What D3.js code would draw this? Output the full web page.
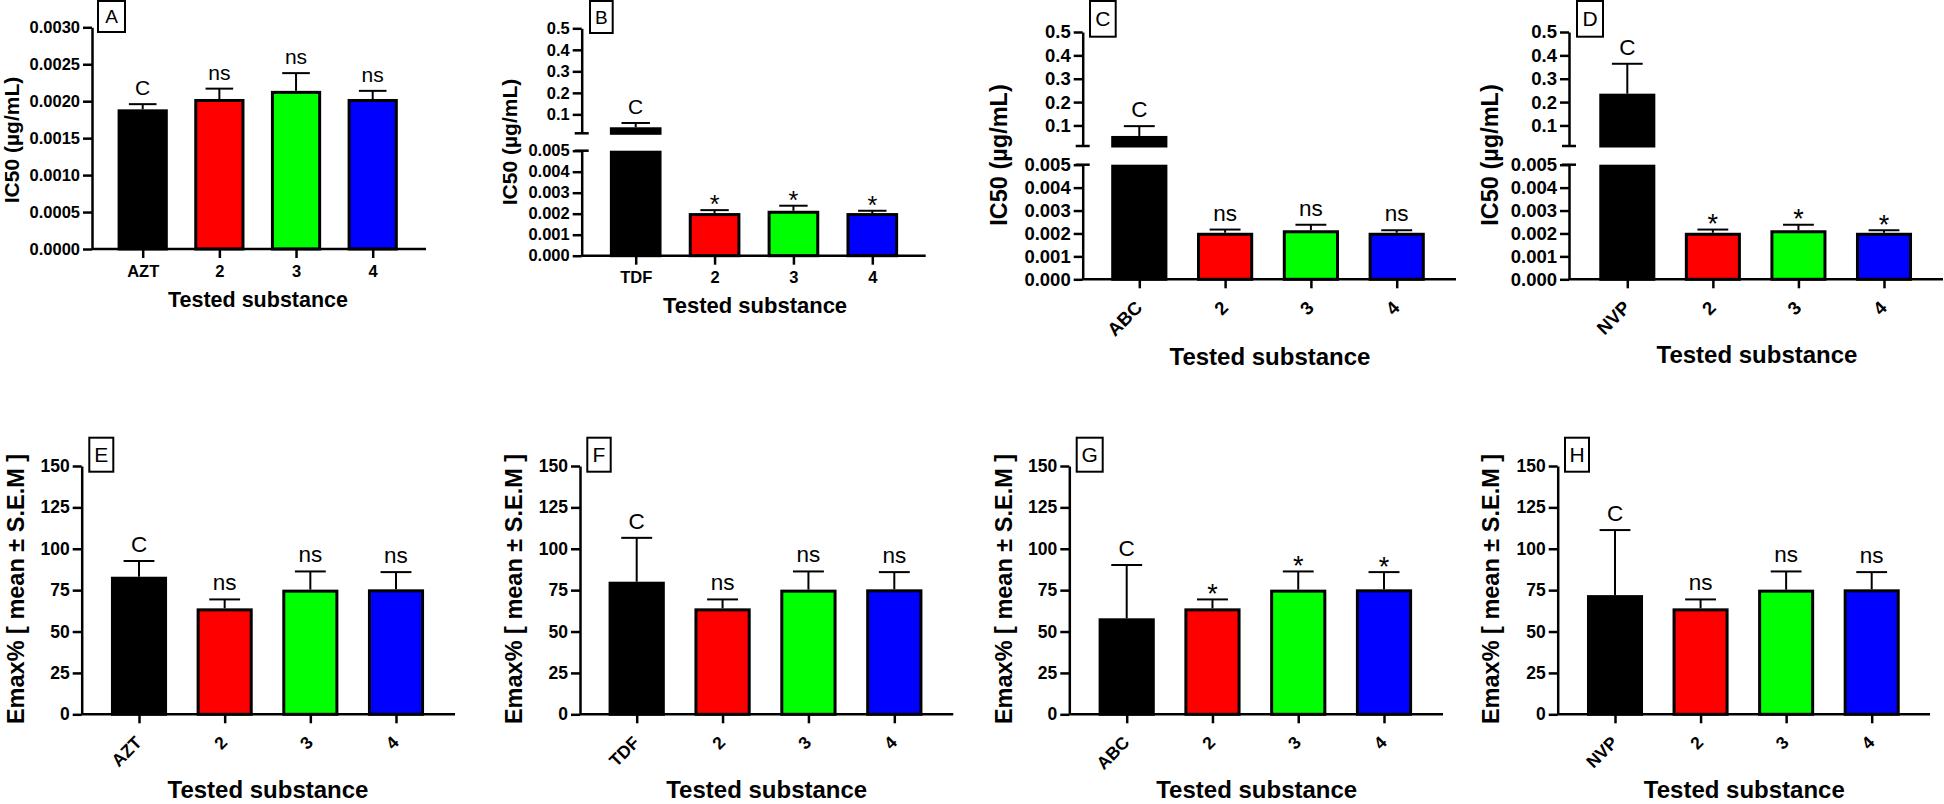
<!DOCTYPE html>
<html>
<head>
<meta charset="utf-8">
<script src="https://cdn.jsdelivr.net/npm/d3@7"></script>
<style>
  body { margin: 0; background: #fff; }
  svg { display: block; }
  text { font-family: "Liberation Sans", Arial, sans-serif; fill: #000; }
</style>
</head>
<body>
<svg id="chart" width="1944" height="804"></svg>
<script>
// ---- data ----
const controls = ["AZT", "TDF", "ABC", "NVP"];
const compounds = ["2", "3", "4"];
const barColors = ["#000000", "#ff0000", "#00ff00", "#0000ff"];

const ic50Controls = [0.00189, 0.040, 0.055, 0.236];
const ic50ControlsSem = [0.00007, 0.020, 0.042, 0.128];
const ic50Compounds = [0.00203, 0.00214, 0.00203];
const ic50CompoundsSem = [0.00014, 0.00024, 0.00011];

const emaxControls = [83.1, 80.1, 58.0, 72.0];
const emaxControlsSem = [9.5, 26.5, 32.2, 39.3];
const emaxCompounds = [64.0, 75.3, 75.5];
const emaxCompoundsSem = [5.4, 11.0, 10.4];

const ic50Marks = [["C", "ns", "ns", "ns"], ["C", "*", "*", "*"], ["C", "ns", "ns", "ns"], ["C", "*", "*", "*"]];
const emaxMarks = [["C", "ns", "ns", "ns"], ["C", "ns", "ns", "ns"], ["C", "*", "*", "*"], ["C", "ns", "ns", "ns"]];
const ic50Letters = ["A", "B", "C", "D"];
const emaxLetters = ["E", "F", "G", "H"];

const ic50TicksA = [0, 0.0005, 0.001, 0.0015, 0.002, 0.0025, 0.003];
const ic50TicksLow = [0, 0.001, 0.002, 0.003, 0.004, 0.005];
const ic50TicksHigh = [0.1, 0.2, 0.3, 0.4, 0.5];
const ic50Break = [0.005, 0.012, 0.5]; // lower segment top, upper segment bottom, upper top
const emaxTicks = [0, 25, 50, 75, 100, 125, 150];

const xTitle = "Tested substance";
const ic50Title = "IC50 (µg/mL)";
const emaxTitle = "Emax% [ mean ± S.E.M ]";

// ---- layout (pixels) ----
const layoutTop = [
  {ax: 92, xEnd: 426, c0: 142.7, c3: 372.7, y0: 249, yTop: 27.3, tickFs: 16.5, titleX: 258, titleY: 307, titleFs: 21.5,
   yTitleX: 18.5, yTitleY: 140, yTitleFs: 21, box: [98, 125, 1, 32], letterFs: 19, markFs: 21, rotate: false},
  {ax: 581.7, xEnd: 925.7, c0: 635.7, c3: 872.3, y0: 255.7, lowTop: 150.7, upBot: 133.3, yTop: 28.3, tickFs: 16.5, titleX: 755, titleY: 313, titleFs: 22,
   yTitleX: 517, yTitleY: 142, yTitleFs: 21, box: [590, 612.7, 1, 33], letterFs: 19, markFs: 21, rotate: false},
  {ax: 1082.7, xEnd: 1456, c0: 1139.3, c3: 1396.7, y0: 279.3, lowTop: 164.7, upBot: 146, yTop: 32, tickFs: 18.5, titleX: 1270, titleY: 365, titleFs: 24,
   yTitleX: 1007, yTitleY: 155, yTitleFs: 23.5, box: [1090, 1115.7, 1, 36.7], letterFs: 21, markFs: 22.5, rotate: true},
  {ax: 1569, xEnd: 1943, c0: 1627.3, c3: 1884, y0: 279.3, lowTop: 164.7, upBot: 146, yTop: 32, tickFs: 18.5, titleX: 1757, titleY: 363, titleFs: 24,
   yTitleX: 1498, yTitleY: 155, yTitleFs: 23.5, box: [1577, 1603, 1, 36.7], letterFs: 21, markFs: 22.5, rotate: true}
];
const bottomCommon = {y0: 714.3, yTop: 466, tickFs: 17.5, titleY: 798, titleFs: 24, yTitleY: 589, yTitleFs: 23.5, letterFs: 21, markFs: 22.5, rotate: true};
const layoutBottom = [
  {ax: 81.7, xEnd: 455, c0: 139, c3: 396, titleX: 268, yTitleX: 23.5, box: [89.3, 113.3, 437.7, 471.7]},
  {ax: 580, xEnd: 953.3, c0: 636.7, c3: 894.3, titleX: 766.7, yTitleX: 522, box: [587.3, 610.7, 437.7, 471.7]},
  {ax: 1069.3, xEnd: 1443, c0: 1126.7, c3: 1384, titleX: 1256.7, yTitleX: 1012, box: [1076.7, 1102.7, 437.7, 471.7]},
  {ax: 1557.7, xEnd: 1930, c0: 1615, c3: 1871.7, titleX: 1744.3, yTitleX: 1499, box: [1565, 1589, 437.7, 471.7]}
].map(d => Object.assign({}, bottomCommon, d));

const svg = d3.select("#chart");
svg.append("rect").attr("width", 1944).attr("height", 804).attr("fill", "#fff");

function styleAxis(g, fs) {
  g.attr("font-family", null).attr("font-size", null);
  g.selectAll("path.domain").attr("stroke", "#000").attr("stroke-width", 2.5);
  g.selectAll(".tick line").attr("stroke", "#000").attr("stroke-width", 2.5);
  g.selectAll(".tick text").attr("font-size", fs).attr("font-weight", "bold");
}

function drawPanel(L, opt) {
  const g = svg.append("g");
  const cats = opt.cats;
  const x = d3.scalePoint().domain(cats).range([L.c0, L.c3]);
  const bw = x.step() * 0.655;
  const capW = bw * 0.55;

  // bars: list of segments [top, bottom] and the pixel ends of the error bar
  const items = [];
  if (!opt.broken) {
    const y = d3.scaleLinear().domain(opt.domain).range([L.y0, L.yTop]);
    g.append("g").attr("transform", `translate(${L.ax},0)`)
      .call(d3.axisLeft(y).tickValues(opt.ticks).tickFormat(opt.fmt).tickSize(9).tickSizeOuter(0).tickPadding(3))
      .call(styleAxis, L.tickFs);
    opt.vals.forEach((v, i) => items.push({segs: [[y(v), L.y0]], base: y(v), top: y(v + opt.sems[i])}));
  } else {
    const yLow = d3.scaleLinear().domain([0, ic50Break[0]]).range([L.y0, L.lowTop]);
    const yUp = d3.scaleLinear().domain([ic50Break[1], ic50Break[2]]).range([L.upBot, L.yTop]);
    g.append("g").attr("transform", `translate(${L.ax},0)`)
      .call(d3.axisLeft(yLow).tickValues(ic50TicksLow).tickFormat(d3.format(".3f")).tickSize(9).tickSizeOuter(0).tickPadding(3))
      .call(styleAxis, L.tickFs);
    g.append("g").attr("transform", `translate(${L.ax},0)`)
      .call(d3.axisLeft(yUp).tickValues(ic50TicksHigh).tickFormat(d3.format(".1f")).tickSize(9).tickSizeOuter(0).tickPadding(3))
      .call(styleAxis, L.tickFs);
    // segment end caps
    [yLow(ic50Break[0]), yUp(ic50Break[1])].forEach(yy => {
      g.append("line").attr("x1", L.ax - 7).attr("x2", L.ax + 7).attr("y1", yy).attr("y2", yy)
        .attr("stroke", "#000").attr("stroke-width", 2.5);
    });
    opt.vals.forEach((v, i) => {
      if (v > ic50Break[0]) {
        items.push({segs: [[yLow(ic50Break[0]), L.y0], [yUp(v), L.upBot]], base: yUp(v), top: yUp(v + opt.sems[i])});
      } else {
        items.push({segs: [[yLow(v), L.y0]], base: yLow(v), top: yLow(v + opt.sems[i])});
      }
    });
  }

  items.forEach((it, i) => {
    const cx = x(cats[i]);
    it.segs.forEach(s => {
      g.append("rect")
        .attr("x", cx - bw / 2 + 1.5).attr("width", bw - 3)
        .attr("y", s[0] + 1.5).attr("height", Math.max(0, s[1] - s[0] - 1.5))
        .attr("fill", barColors[i]).attr("stroke", "#000").attr("stroke-width", 3);
    });
    g.append("line").attr("x1", cx).attr("x2", cx).attr("y1", it.base).attr("y2", it.top)
      .attr("stroke", "#000").attr("stroke-width", 2);
    g.append("line").attr("x1", cx - capW / 2).attr("x2", cx + capW / 2).attr("y1", it.top).attr("y2", it.top)
      .attr("stroke", "#000").attr("stroke-width", 2);
    const m = opt.marks[i];
    const star = m === "*";
    const fs = star ? L.markFs * 1.2 : L.markFs;
    g.append("text").attr("x", cx)
      .attr("y", star ? it.top - 8 + 0.43 * fs : it.top - 9)
      .attr("text-anchor", "middle").attr("font-size", fs).text(m);
  });

  // x axis
  const xa = g.append("g").attr("transform", `translate(0,${L.y0})`)
    .call(d3.axisBottom(x).tickSize(9).tickSizeOuter(0).tickPadding(7))
    .call(styleAxis, L.tickFs);
  xa.select(".domain").remove();
  if (L.rotate) {
    xa.selectAll(".tick text")
      .attr("text-anchor", "end").attr("y", 0).attr("dy", "0.35em")
      .attr("transform", "translate(-1,25) rotate(-45)");
  }
  g.append("line").attr("x1", L.ax).attr("x2", L.xEnd).attr("y1", L.y0).attr("y2", L.y0)
    .attr("stroke", "#000").attr("stroke-width", 2.5);

  // titles
  g.append("text").attr("x", L.titleX).attr("y", L.titleY).attr("text-anchor", "middle")
    .attr("font-weight", "bold").attr("font-size", L.titleFs).text(xTitle);
  g.append("text").attr("transform", `translate(${L.yTitleX},${L.yTitleY}) rotate(-90)`)
    .attr("text-anchor", "middle").attr("font-weight", "bold").attr("font-size", L.yTitleFs).text(opt.yTitle);

  // panel letter box
  const b = L.box;
  g.append("rect").attr("x", b[0]).attr("y", b[2]).attr("width", b[1] - b[0]).attr("height", b[3] - b[2])
    .attr("fill", "#fff").attr("stroke", "#000").attr("stroke-width", 2);
  g.append("text").attr("x", (b[0] + b[1]) / 2).attr("y", (b[2] + b[3]) / 2).attr("dy", "0.36em")
    .attr("text-anchor", "middle").attr("font-size", L.letterFs).text(opt.letter);
}

controls.forEach((c, k) => {
  const cats = [c].concat(compounds);
  drawPanel(layoutTop[k], {
    cats: cats,
    vals: [ic50Controls[k]].concat(ic50Compounds),
    sems: [ic50ControlsSem[k]].concat(ic50CompoundsSem),
    marks: ic50Marks[k],
    letter: ic50Letters[k],
    yTitle: ic50Title,
    broken: k > 0,
    domain: [0, 0.003],
    ticks: ic50TicksA,
    fmt: d3.format(".4f")
  });
  drawPanel(layoutBottom[k], {
    cats: cats,
    vals: [emaxControls[k]].concat(emaxCompounds),
    sems: [emaxControlsSem[k]].concat(emaxCompoundsSem),
    marks: emaxMarks[k],
    letter: emaxLetters[k],
    yTitle: emaxTitle,
    broken: false,
    domain: [0, 150],
    ticks: emaxTicks,
    fmt: d3.format("d")
  });
});
</script>
</body>
</html>
